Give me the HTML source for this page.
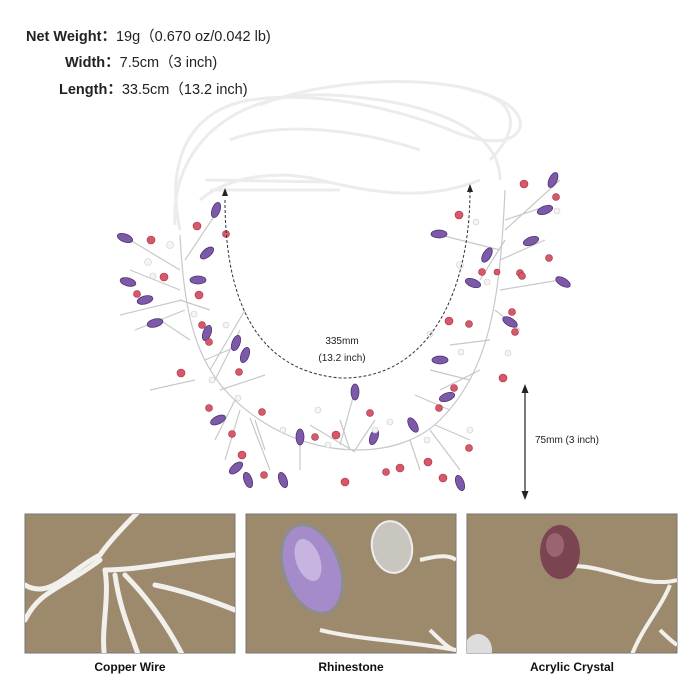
<!DOCTYPE html>
<html><head><meta charset="utf-8"><style>
body{margin:0;width:700px;height:700px;background:#fff;font-family:"Liberation Sans","Noto Sans CJK SC",sans-serif;position:relative;overflow:hidden}
.t{position:absolute;font-size:14.5px;color:#222;white-space:nowrap}
.t b{display:inline-block;text-align:right}
.lab{position:absolute;top:660px;font-size:12px;font-weight:bold;color:#111;text-align:center;width:210px}
</style></head><body>
<div class="t" style="left:26px;top:25px"><b>Net Weight：</b>19g（0.670 oz/0.042 lb)</div>
<div class="t" style="left:65px;top:51px"><b>Width：</b>7.5cm（3 inch)</div>
<div class="t" style="left:59px;top:78px"><b>Length：</b>33.5cm（13.2 inch)</div>
<svg width="700" height="700" style="position:absolute;left:0;top:0">
<g fill="none" stroke="#ececec" stroke-width="3">
<path d="M180 230 C165 160 190 110 250 100 C320 90 400 110 450 130 C520 160 540 120 500 100 C440 70 320 80 260 105"/>
<path d="M200 200 C230 175 280 170 320 180 C380 195 430 200 480 180"/>
<path d="M175 225 C170 150 230 90 330 95 C420 100 500 125 500 180"/>
<path d="M205 180 L330 182 M210 190 L340 190"/>
<path d="M490 160 C520 130 520 100 470 90"/>
<path d="M230 140 C280 120 360 130 420 150"/>
</g>
<g fill="none" stroke="#c8c8c8" stroke-width="1.2">
<path d="M180 235 C185 330 200 380 260 420 C320 460 400 460 440 420 C490 370 500 300 505 190"/>
<path d="M180 270 L130 240 M180 290 L130 270 M182 300 L120 315 M185 310 L135 330 M190 340 L160 320 M195 380 L150 390 M205 360 L240 345 M210 370 L245 310 M215 380 L240 330 M220 390 L265 375 M235 400 L215 440 M240 410 L225 460 M250 418 L270 470 M255 420 L265 450 M300 440 L300 470 M340 445 L355 390 M350 450 L340 420 M355 450 L375 420 M355 452 L310 425 M410 440 L420 470 M430 430 L460 470 M435 425 L470 440 M450 410 L415 395 M470 380 L430 370 M480 370 L440 390 M490 340 L450 345 M495 310 L520 330 M500 290 L560 280 M500 260 L545 240 M500 250 L440 235 M505 240 L480 280 M505 230 L560 180 M505 220 L550 205 M185 260 L215 215 M180 300 L210 310"/>
</g>
<g fill="#7d5aa8" stroke="#4e3275" stroke-width="0.8">
<ellipse cx="125" cy="238" rx="8" ry="4" transform="rotate(20 125 238)"/>
<ellipse cx="128" cy="282" rx="8" ry="4" transform="rotate(15 128 282)"/>
<ellipse cx="145" cy="300" rx="8" ry="4" transform="rotate(-15 145 300)"/>
<ellipse cx="155" cy="323" rx="8" ry="4" transform="rotate(-15 155 323)"/>
<ellipse cx="216" cy="210" rx="4" ry="8" transform="rotate(20 216 210)"/>
<ellipse cx="207" cy="253" rx="8" ry="4" transform="rotate(-40 207 253)"/>
<ellipse cx="198" cy="280" rx="8" ry="4"/>
<ellipse cx="207" cy="333" rx="4" ry="8" transform="rotate(20 207 333)"/>
<ellipse cx="236" cy="343" rx="4" ry="8" transform="rotate(20 236 343)"/>
<ellipse cx="245" cy="355" rx="4" ry="8" transform="rotate(20 245 355)"/>
<ellipse cx="218" cy="420" rx="8" ry="4" transform="rotate(-25 218 420)"/>
<ellipse cx="236" cy="468" rx="8" ry="4" transform="rotate(-40 236 468)"/>
<ellipse cx="248" cy="480" rx="4" ry="8" transform="rotate(-20 248 480)"/>
<ellipse cx="283" cy="480" rx="4" ry="8" transform="rotate(-20 283 480)"/>
<ellipse cx="300" cy="437" rx="4" ry="8"/>
<ellipse cx="355" cy="392" rx="4" ry="8"/>
<ellipse cx="374" cy="437" rx="4" ry="8" transform="rotate(20 374 437)"/>
<ellipse cx="413" cy="425" rx="4" ry="8" transform="rotate(-30 413 425)"/>
<ellipse cx="460" cy="483" rx="4" ry="8" transform="rotate(-20 460 483)"/>
<ellipse cx="447" cy="397" rx="8" ry="4" transform="rotate(-20 447 397)"/>
<ellipse cx="440" cy="360" rx="8" ry="4"/>
<ellipse cx="510" cy="322" rx="8" ry="4" transform="rotate(30 510 322)"/>
<ellipse cx="473" cy="283" rx="8" ry="4" transform="rotate(20 473 283)"/>
<ellipse cx="487" cy="255" rx="4" ry="8" transform="rotate(30 487 255)"/>
<ellipse cx="439" cy="234" rx="8" ry="4"/>
<ellipse cx="531" cy="241" rx="8" ry="4" transform="rotate(-20 531 241)"/>
<ellipse cx="545" cy="210" rx="8" ry="4" transform="rotate(-20 545 210)"/>
<ellipse cx="553" cy="180" rx="4" ry="8" transform="rotate(25 553 180)"/>
<ellipse cx="563" cy="282" rx="8" ry="4" transform="rotate(30 563 282)"/>
</g>
<g fill="#d8586a" stroke="#9a3040" stroke-width="0.6">
<circle cx="151" cy="240" r="4"/><circle cx="137" cy="294" r="3.5"/><circle cx="164" cy="277" r="4"/>
<circle cx="197" cy="226" r="4"/><circle cx="226" cy="234" r="3.5"/><circle cx="199" cy="295" r="4"/>
<circle cx="202" cy="325" r="3.5"/><circle cx="209" cy="342" r="3.5"/><circle cx="181" cy="373" r="4"/>
<circle cx="239" cy="372" r="3.5"/><circle cx="209" cy="408" r="3.5"/><circle cx="232" cy="434" r="3.5"/>
<circle cx="242" cy="455" r="4"/><circle cx="264" cy="475" r="3.5"/><circle cx="262" cy="412" r="3.5"/>
<circle cx="315" cy="437" r="3.5"/><circle cx="336" cy="435" r="4"/><circle cx="370" cy="413" r="3.5"/>
<circle cx="345" cy="482" r="4"/><circle cx="386" cy="472" r="3.5"/><circle cx="400" cy="468" r="4"/>
<circle cx="428" cy="462" r="4"/><circle cx="443" cy="478" r="4"/><circle cx="469" cy="448" r="3.5"/>
<circle cx="439" cy="408" r="3.5"/><circle cx="454" cy="388" r="3.5"/><circle cx="503" cy="378" r="4"/>
<circle cx="449" cy="321" r="4"/><circle cx="469" cy="324" r="3.5"/><circle cx="512" cy="312" r="3.5"/>
<circle cx="515" cy="332" r="3.5"/><circle cx="482" cy="272" r="3.5"/><circle cx="520" cy="273" r="3.5"/>
<circle cx="549" cy="258" r="3.5"/><circle cx="522" cy="276" r="3.5"/><circle cx="459" cy="215" r="4"/>
<circle cx="524" cy="184" r="4"/><circle cx="556" cy="197" r="3.5"/><circle cx="497" cy="272" r="3"/>
</g>
<g fill="#f4f4f4" stroke="#ccc" stroke-width="0.6">
<circle cx="170" cy="245" r="3.5"/><circle cx="148" cy="262" r="3.5"/><circle cx="153" cy="276" r="3"/>
<circle cx="194" cy="314" r="3"/><circle cx="226" cy="325" r="3"/><circle cx="212" cy="380" r="3"/>
<circle cx="238" cy="398" r="3"/><circle cx="283" cy="430" r="3"/><circle cx="318" cy="410" r="3"/>
<circle cx="328" cy="445" r="3"/><circle cx="375" cy="430" r="3"/><circle cx="390" cy="422" r="3"/>
<circle cx="427" cy="440" r="3"/><circle cx="470" cy="430" r="3"/><circle cx="461" cy="352" r="3"/>
<circle cx="430" cy="334" r="3"/><circle cx="460" cy="265" r="3.5"/><circle cx="476" cy="222" r="3"/>
<circle cx="557" cy="211" r="3"/><circle cx="508" cy="353" r="3"/><circle cx="487" cy="282" r="3"/>
</g>
<path d="M225 200 C225 290 250 370 340 378 C430 380 470 290 470 190" fill="none" stroke="#333" stroke-width="1" stroke-dasharray="3,2"/>
<path d="M225 188 l-3 8 h6z M470 184 l-3 8 h6z" fill="#222"/>
<line x1="525" y1="392" x2="525" y2="494" stroke="#222" stroke-width="1.2"/>
<path d="M525 384 l-3.5 9 h7z M525 500 l-3.5 -9 h7z" fill="#222"/>
<text x="342" y="344" font-size="10" text-anchor="middle" fill="#222" font-family="Liberation Sans">335mm</text>
<text x="342" y="361" font-size="10" text-anchor="middle" fill="#222" font-family="Liberation Sans">(13.2 inch)</text>
<text x="535" y="443" font-size="10" fill="#222" font-family="Liberation Sans">75mm (3 inch)</text>
<defs><clipPath id="c1"><rect x="25" y="514" width="210" height="139"/></clipPath><clipPath id="c2"><rect x="246" y="514" width="210" height="139"/></clipPath><clipPath id="c3"><rect x="467" y="514" width="210" height="139"/></clipPath></defs>
<rect x="25" y="514" width="210" height="139" fill="#9d8a6d" stroke="#777"/>
<rect x="246" y="514" width="210" height="139" fill="#9d8a6d" stroke="#777"/>
<rect x="467" y="514" width="210" height="139" fill="#9d8a6d" stroke="#777"/>
<g clip-path="url(#c1)" fill="none" stroke="#f2f0ec" stroke-width="5" stroke-linecap="round">
<path d="M25 585 C50 600 70 570 100 555 C110 540 130 520 140 510"/>
<path d="M25 620 C40 590 60 590 100 560"/>
<path d="M105 570 C110 600 100 630 105 660"/>
<path d="M115 575 C120 610 130 630 140 660"/>
<path d="M125 575 C150 600 170 630 185 660"/>
<path d="M105 570 C140 570 180 560 235 555"/>
<path d="M155 585 C180 590 210 600 235 610"/>
</g>
<g clip-path="url(#c2)">
<path d="M320 630 C360 640 400 640 456 650 M420 560 C440 555 450 555 456 560 M430 630 C440 640 450 650 456 650" fill="none" stroke="#f2f0ec" stroke-width="4"/>
<ellipse cx="312" cy="569" rx="28" ry="46" transform="rotate(-20 312 569)" fill="#a58bc9" stroke="#8d8d8d" stroke-width="3"/>
<ellipse cx="308" cy="560" rx="12" ry="22" transform="rotate(-20 308 560)" fill="#c7b4e0"/>
<ellipse cx="392" cy="547" rx="20" ry="26" transform="rotate(-10 392 547)" fill="#c9c5bf" stroke="#eee" stroke-width="2"/>
</g>
<g clip-path="url(#c3)">
<path d="M560 567 C600 560 640 590 677 580 M670 585 C660 610 640 630 630 660 M660 630 C670 640 677 645 677 645" fill="none" stroke="#f2f0ec" stroke-width="4"/>
<ellipse cx="560" cy="552" rx="20" ry="27" fill="#7a4550"/>
<ellipse cx="555" cy="545" rx="9" ry="12" fill="#9c6470"/>
<ellipse cx="478" cy="650" rx="14" ry="16" fill="#ddd"/>
</g>
</svg>
<div class="lab" style="left:25px">Copper Wire</div>
<div class="lab" style="left:246px">Rhinestone</div>
<div class="lab" style="left:467px">Acrylic Crystal</div>
</body></html>
